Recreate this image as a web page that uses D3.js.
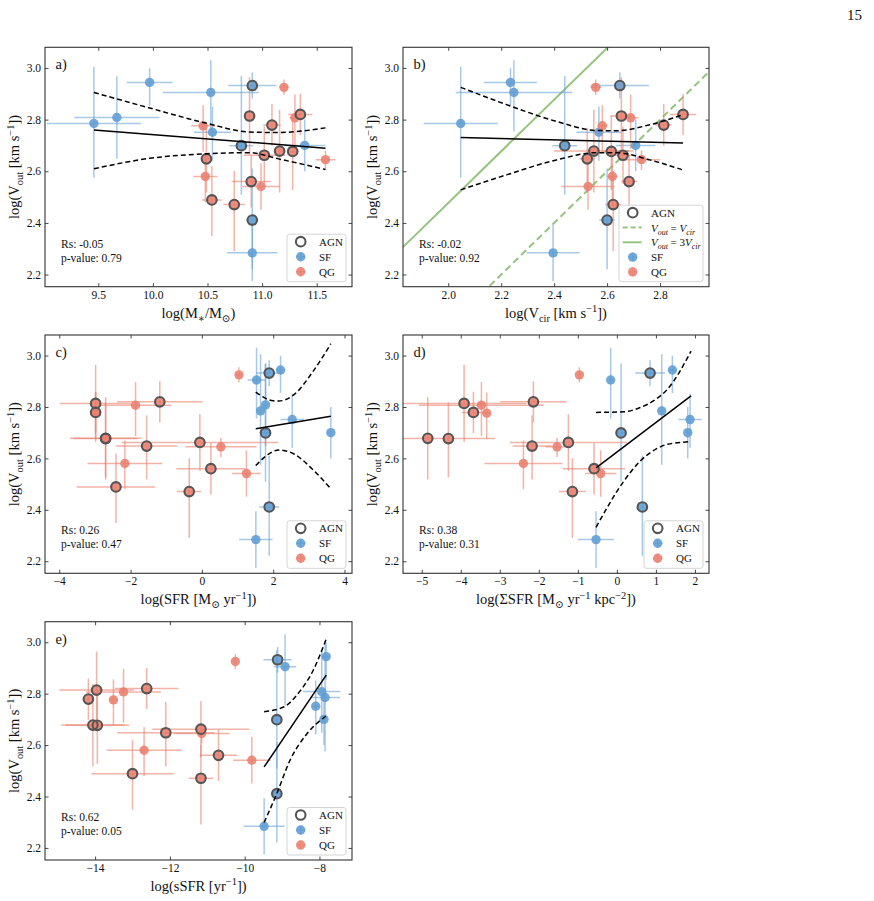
<!DOCTYPE html>
<html><head><meta charset="utf-8">
<script src="https://cdn.jsdelivr.net/npm/d3@7"></script>
<style>
body{margin:0;background:#fff}
svg{display:block}
text{font-family:"Liberation Serif","DejaVu Serif",serif;fill:#111}
</style>
</head><body>
<svg id="chart" width="874" height="901"></svg>
<script>
// ---------------- DATA ----------------
const ids = ["S1","S2","S3","S4","S5","S6","S7","S8","S9","S10",
  "Q11","Q12","Q13","Q14","Q15","Q16","Q17","Q18","Q19","Q20","Q21","Q22","Q23","Q24","Q25","Q26"];
const galType = ["SF","SF","SF","SF","SF","SF","SF","SF","SF","SF",
  "QG","QG","QG","QG","QG","QG","QG","QG","QG","QG","QG","QG","QG","QG","QG","QG"];
const isAGN = [false,false,false,false,false,true,true,true,false,false,
  false,true,false,true,true,true,true,false,true,true,true,false,true,false,true,false];
const logVout = [2.785,2.808,2.944,2.905,2.751,2.699,2.932,2.411,2.284,2.700,
  2.776,2.648,2.580,2.489,2.471,2.814,2.560,2.541,2.662,2.779,2.678,2.925,2.677,2.807,2.820,2.645];
const voutErrUp = [0.22,0.16,0.055,0.125,0.10,0.27,0.05,0.20,0.11,0.10,
  0.08,0.12,0.09,0.13,0.13,0.15,0.10,0.09,0.11,0.08,0.16,0.03,0.14,0.09,0.08,0.035];
const voutErrDn = [0.21,0.16,0.09,0.15,0.11,0.19,0.05,0.19,0.11,0.10,
  0.10,0.13,0.10,0.14,0.18,0.15,0.10,0.09,0.11,0.08,0.16,0.03,0.15,0.12,0.08,0.04];

const logMstar = [9.46,9.67,9.97,10.53,10.545,10.81,10.91,10.91,10.91,11.39,
  10.46,10.49,10.48,10.54,10.745,10.885,10.90,10.99,11.02,11.09,11.16,11.20,11.28,11.30,11.35,11.58];
const logMstarErr = [0.43,0.39,0.21,0.44,0.17,0.11,0.22,0.05,0.23,0.19,
  0.11,0.05,0.11,0.09,0.10,0.05,0.18,0.17,0.19,0.08,0.05,0.04,0.05,0.05,0.11,0.09];

const logVcir = [2.047,null,2.235,2.248,2.569,2.44,2.648,2.60,2.396,2.708,
  2.582,2.525,2.62,null,2.623,2.654,2.683,2.528,2.66,2.814,2.55,2.557,2.616,2.689,2.887,2.73];
const logVcirErr = [0.14,null,0.10,0.22,0.085,0.047,0.11,0.03,0.10,0.075,
  0.02,0.03,0.02,null,0.03,0.04,0.03,0.10,0.03,0.03,0.15,0.02,0.03,0.03,0.05,0.07];

const logSFR = [1.645,1.785,2.206,1.533,2.533,1.785,1.888,1.888,1.514,3.617,
  -2.98,-1.55,-2.16,-2.41,-0.355,-2.98,0.252,1.25,-0.056,-2.98,-2.70,1.04,-2.70,-1.86,-1.18,0.533];
const logSFRErr = [0.10,0.10,0.12,0.25,0.33,0.10,0.37,0.28,0.47,0.05,
  0.10,0.86,1.05,1.10,0.34,1.00,0.97,0.40,2.20,0.10,1.00,0.10,0.90,1.00,1.20,1.00];

const logSigmaSFR = [1.149,null,1.422,-0.158,1.875,0.107,0.85,0.653,-0.534,1.815,
  -3.335,-2.173,-2.395,null,-1.14,-3.915,-0.585,-0.414,-1.243,-3.676,-4.846,-0.961,-4.317,-3.471,-2.139,-1.533];
const logSigmaSFRErr = [0.05,null,0.10,0.05,0.30,0.10,0.38,0.05,0.46,0.05,
  0.05,0.50,1.00,null,0.35,1.60,0.80,0.40,1.50,0.30,0.15,0.05,1.20,1.60,0.85,0.30];

const logsSFR = [-7.85,-7.94,-7.82,-8.92,-8.10,-9.14,-9.12,-9.14,-9.48,-7.88,
  -13.51,-12.11,-12.69,-13.0,-11.17,-13.96,-10.70,-9.81,-11.17,-14.18,-14.06,-10.25,-13.94,-13.24,-12.62,-11.15];
const logsSFRErr = [0.40,0.50,0.10,0.30,0.10,0.05,0.38,0.10,0.55,0.05,
  0.10,1.30,1.00,1.10,0.33,1.00,0.50,0.50,1.30,0.10,0.85,0.05,0.85,1.00,0.85,0.75];

// fits (solid) and confidence bands (dashed)
const fitA_x = [9.46, 11.58], fitA_y = [2.760, 2.689];
const bandA_x = [9.46, 9.97, 10.5, 10.88, 11.15, 11.58];
const bandA_up = [2.905, 2.845, 2.785, 2.752, 2.750, 2.768];
const bandA_lo = [2.610, 2.650, 2.668, 2.672, 2.648, 2.607];

const fitB_x = [2.047, 2.887], fitB_y = [2.731, 2.709];
const bandB_x = [2.047, 2.22, 2.409, 2.56, 2.635, 2.761, 2.887];
const bandB_up = [2.925, 2.858, 2.793, 2.758, 2.757, 2.780, 2.819];
const bandB_lo = [2.528, 2.586, 2.644, 2.672, 2.672, 2.644, 2.605];

const fitC_x = [1.51, 3.617], fitC_y = [2.715, 2.764];
const bandC_x = [1.51, 2.0, 2.15, 2.6, 3.1, 3.617];
const bandC_up = [2.858, 2.824, 2.823, 2.850, 2.935, 3.046];
const bandC_lo = [2.572, 2.627, 2.633, 2.616, 2.558, 2.482];

const fitD_x = [-0.534, 1.90], fitD_y = [2.563, 2.843];
const bandD_x = [-0.534, 0.167, 0.6, 1.0, 1.3, 1.9];
const bandD_up = [2.779, 2.781, 2.798, 2.830, 2.870, 3.017];
const bandD_lo = [2.332, 2.509, 2.590, 2.636, 2.655, 2.665];

const fitE_x = [-9.48, -7.82], fitE_y = [2.515, 2.872];
const bandE_upx = [-9.48, -8.96, -8.52, -8.16, -7.82];
const bandE_up = [2.730, 2.748, 2.810, 2.893, 3.013];
const bandE_lox = [-9.48, -9.14, -8.79, -8.34, -7.82];
const bandE_lo = [2.299, 2.412, 2.540, 2.643, 2.714];

const xTicksA = [9.5, 10.0, 10.5, 11.0, 11.5];
const xTicksB = [2.0, 2.2, 2.4, 2.6, 2.8];
const xTicksC = [-4, -2, 0, 2, 4];
const xTicksD = [-5, -4, -3, -2, -1, 0, 1, 2];
const xTicksE = [-14, -12, -10, -8];
const yTicks = [2.2, 2.4, 2.6, 2.8, 3.0];
const panelLetters = ["a)", "b)", "c)", "d)", "e)"];
const rsValues = ["-0.05", "-0.02", "0.26", "0.38", "0.62"];
const pValues = ["0.79", "0.92", "0.47", "0.31", "0.05"];
const yDomain = [2.153, 3.08];

// ---------------- STYLE ----------------
const COL = {SF: "#5e9cd3", QG: "#e9806e"};
const GREEN = "#95c47f";
const svg = d3.select("#chart");
const minus = s => s.replace(/-/g, "\u2212");

function rich(sel, parts, fs) {
  let shift = 0;
  parts.forEach(([t, m]) => {
    let target = 0, size = fs;
    if (m.includes("sub")) { target = fs * 0.28; size = fs * 0.72; }
    if (m.includes("sup")) { target = -fs * 0.38; size = fs * 0.72; }
    const ts = sel.append("tspan").text(t).attr("font-size", size).attr("dy", target - shift);
    if (m.includes("i")) ts.attr("font-style", "italic");
    shift = target;
  });
}

const labelVout = [["log(V",""],["out","sub"],[" [km s",""],["\u22121","sup"],["])",""]];
const xLabels = [
  [["log(M",""],["\u2217","sub"],["/M",""],["\u2299","sub"],[")",""]],
  [["log(V",""],["cir","sub"],[" [km s",""],["\u22121","sup"],["])",""]],
  [["log(SFR [M",""],["\u2299","sub"],[" yr",""],["\u22121","sup"],["])",""]],
  [["log(\u03A3SFR [M",""],["\u2299","sub"],[" yr",""],["\u22121","sup"],[" kpc",""],["\u22122","sup"],["])",""]],
  [["log(sSFR [yr",""],["\u22121","sup"],["])",""]]
];

const panels = [
  {x:45, y:47.3, w:307, h:239.4, xdom:[9.012, 11.823], xticks:xTicksA, fmt:d3.format(".1f"),
   xv:logMstar, xe:logMstarErr, fx:fitA_x, fy:fitA_y, bux:bandA_x, bu:bandA_up, blx:bandA_x, bl:bandA_lo, legend:"basic"},
  {x:403, y:47.3, w:306, h:239.4, xdom:[1.829, 2.985], xticks:xTicksB, fmt:d3.format(".1f"),
   xv:logVcir, xe:logVcirErr, fx:fitB_x, fy:fitB_y, bux:bandB_x, bu:bandB_up, blx:bandB_x, bl:bandB_lo, legend:"vcir"},
  {x:45, y:335, w:307, h:238.3, xdom:[-4.40, 4.21], xticks:xTicksC, fmt:d3.format("d"),
   xv:logSFR, xe:logSFRErr, fx:fitC_x, fy:fitC_y, bux:bandC_x, bu:bandC_up, blx:bandC_x, bl:bandC_lo, legend:"basic"},
  {x:403, y:335, w:306, h:238.3, xdom:[-5.48, 2.36], xticks:xTicksD, fmt:d3.format("d"),
   xv:logSigmaSFR, xe:logSigmaSFRErr, fx:fitD_x, fy:fitD_y, bux:bandD_x, bu:bandD_up, blx:bandD_x, bl:bandD_lo, legend:"basic"},
  {x:45, y:621.7, w:307, h:238.3, xdom:[-15.34, -7.13], xticks:xTicksE, fmt:d3.format("d"),
   xv:logsSFR, xe:logsSFRErr, fx:fitE_x, fy:fitE_y, bux:bandE_upx, bu:bandE_up, blx:bandE_lox, bl:bandE_lo, legend:"basic"}
];

// page number
svg.append("text").attr("x", 862).attr("y", 20).attr("text-anchor", "end")
  .attr("font-size", 15).text("15");

panels.forEach((p, pi) => {
  const xs = d3.scaleLinear().domain(p.xdom).range([p.x, p.x + p.w]);
  const ys = d3.scaleLinear().domain(yDomain).range([p.y + p.h, p.y]);
  const clipId = "clip" + pi;
  svg.append("clipPath").attr("id", clipId).append("rect")
    .attr("x", p.x).attr("y", p.y).attr("width", p.w).attr("height", p.h);
  const g = svg.append("g");
  const plot = g.append("g").attr("clip-path", `url(#${clipId})`);

  // reference lines for panel b
  if (p.legend === "vcir") {
    const d0 = p.xdom;
    plot.append("line").attr("x1", xs(d0[0])).attr("y1", ys(d0[0])).attr("x2", xs(d0[1])).attr("y2", ys(d0[1]))
      .attr("stroke", GREEN).attr("stroke-width", 2).attr("stroke-dasharray", "7,4");
    const off = Math.log10(3);
    plot.append("line").attr("x1", xs(d0[0])).attr("y1", ys(d0[0] + off)).attr("x2", xs(d0[1])).attr("y2", ys(d0[1] + off))
      .attr("stroke", GREEN).attr("stroke-width", 2);
  }

  // points: SF first then QG
  const idx = d3.range(ids.length).filter(k => p.xv[k] != null);
  const order = idx.filter(k => galType[k] === "SF").concat(idx.filter(k => galType[k] === "QG"));
  order.forEach(k => {
    const c = COL[galType[k]];
    const cx = xs(p.xv[k]), cy = ys(logVout[k]);
    const op = galType[k] === "SF" ? 0.55 : 0.6;
    plot.append("line").attr("x1", xs(p.xv[k] - p.xe[k])).attr("x2", xs(p.xv[k] + p.xe[k]))
      .attr("y1", cy).attr("y2", cy).attr("stroke", c).attr("stroke-width", 1.5).attr("stroke-opacity", op);
    plot.append("line").attr("x1", cx).attr("x2", cx)
      .attr("y1", ys(logVout[k] - voutErrDn[k])).attr("y2", ys(logVout[k] + voutErrUp[k]))
      .attr("stroke", c).attr("stroke-width", 1.5).attr("stroke-opacity", op);
    plot.append("circle").attr("cx", cx).attr("cy", cy).attr("r", 4.7)
      .attr("fill", c).attr("fill-opacity", 0.88);
  });
  order.filter(k => isAGN[k]).forEach(k => {
    plot.append("circle").attr("cx", xs(p.xv[k])).attr("cy", ys(logVout[k])).attr("r", 4.8)
      .attr("fill", "none").attr("stroke", "#555").attr("stroke-width", 2.1);
  });

  // fit line and confidence band
  plot.append("line").attr("x1", xs(p.fx[0])).attr("y1", ys(p.fy[0]))
    .attr("x2", xs(p.fx[1])).attr("y2", ys(p.fy[1]))
    .attr("stroke", "#000").attr("stroke-width", 1.5);
  const lineGen = d3.line().x(d => xs(d[0])).y(d => ys(d[1])).curve(d3.curveMonotoneX);
  plot.append("path").attr("d", lineGen(p.bux.map((v, i) => [v, p.bu[i]])))
    .attr("fill", "none").attr("stroke", "#000").attr("stroke-width", 1.5).attr("stroke-dasharray", "5,3");
  plot.append("path").attr("d", lineGen(p.blx.map((v, i) => [v, p.bl[i]])))
    .attr("fill", "none").attr("stroke", "#000").attr("stroke-width", 1.5).attr("stroke-dasharray", "5,3");

  // axes (ticks inward on all sides)
  const tk = 3.5;
  const ax = g.append("g").attr("transform", `translate(0,${p.y + p.h})`)
    .call(d3.axisBottom(xs).tickValues(p.xticks).tickSizeInner(-tk).tickSizeOuter(0).tickPadding(4)
      .tickFormat(d => minus(p.fmt(d))));
  const axT = g.append("g").attr("transform", `translate(0,${p.y})`)
    .call(d3.axisTop(xs).tickValues(p.xticks).tickSizeInner(-tk).tickSizeOuter(0).tickFormat(""));
  const ayL = g.append("g").attr("transform", `translate(${p.x},0)`)
    .call(d3.axisLeft(ys).tickValues(yTicks).tickSizeInner(-tk).tickSizeOuter(0).tickPadding(4)
      .tickFormat(d3.format(".1f")));
  const ayR = g.append("g").attr("transform", `translate(${p.x + p.w},0)`)
    .call(d3.axisRight(ys).tickValues(yTicks).tickSizeInner(-tk).tickSizeOuter(0).tickFormat(""));
  [ax, axT, ayL, ayR].forEach(a => {
    a.select(".domain").remove();
    a.selectAll(".tick line").attr("stroke", "#333").attr("stroke-width", 0.9);
    a.selectAll(".tick text").attr("font-family", "Liberation Serif, DejaVu Serif, serif")
      .attr("font-size", 11.5).attr("fill", "#111");
  });
  g.append("rect").attr("x", p.x).attr("y", p.y).attr("width", p.w).attr("height", p.h)
    .attr("fill", "none").attr("stroke", "#333").attr("stroke-width", 1.1);

  // labels
  const xl = g.append("text").attr("x", p.x + p.w / 2).attr("y", p.y + p.h + 31)
    .attr("text-anchor", "middle").attr("font-size", 14.5);
  rich(xl, xLabels[pi], 14.5);
  const yl = g.append("text").attr("transform", `translate(${p.x - 26},${p.y + p.h / 2}) rotate(-90)`)
    .attr("text-anchor", "middle").attr("font-size", 14.5);
  rich(yl, labelVout, 14.5);

  g.append("text").attr("x", p.x + 10.5).attr("y", p.y + 22).attr("font-size", 14.5).text(panelLetters[pi]);
  g.append("text").attr("x", p.x + 16).attr("y", p.y + p.h - 39).attr("font-size", 11.5).text("Rs: " + rsValues[pi]);
  g.append("text").attr("x", p.x + 16).attr("y", p.y + p.h - 25).attr("font-size", 11.5).text("p-value: " + pValues[pi]);

  // legend
  const items = p.legend === "vcir"
    ? [["agn", [["AGN",""]]], ["dash", [["V","i"],["out","isub"],[" = ",""],["V","i"],["cir","isub"]]],
       ["solid", [["V","i"],["out","isub"],[" = 3",""],["V","i"],["cir","isub"]]],
       ["SF", [["SF",""]]], ["QG", [["QG",""]]]]
    : [["agn", [["AGN",""]]], ["SF", [["SF",""]]], ["QG", [["QG",""]]]];
  const lw = p.legend === "vcir" ? 84 : 59;
  const rowH = p.legend === "vcir" ? 14.8 : 15;
  const lh = items.length * rowH + 2.5;
  const lx = p.x + p.w - 6 - lw, ly = p.y + p.h - 5 - lh;
  const lg = g.append("g");
  lg.append("rect").attr("x", lx).attr("y", ly).attr("width", lw).attr("height", lh).attr("rx", 2.5)
    .attr("fill", "#fff").attr("fill-opacity", 0.85).attr("stroke", "#d4d4d4").attr("stroke-width", 1);
  items.forEach(([kind, parts], i) => {
    const cy = ly + 7.5 + i * rowH;
    const mx = lx + 13.7;
    if (kind === "agn") {
      lg.append("circle").attr("cx", mx).attr("cy", cy).attr("r", 4.8).attr("fill", "none")
        .attr("stroke", "#555").attr("stroke-width", 2.1);
    } else if (kind === "dash" || kind === "solid") {
      lg.append("line").attr("x1", lx + 3.7).attr("x2", lx + 22.7).attr("y1", cy).attr("y2", cy)
        .attr("stroke", GREEN).attr("stroke-width", 2).attr("stroke-dasharray", kind === "dash" ? "5,3" : null);
    } else {
      const c = COL[kind];
      lg.append("line").attr("x1", mx - 4.5).attr("x2", mx + 4.5).attr("y1", cy).attr("y2", cy)
        .attr("stroke", c).attr("stroke-width", 1.5).attr("stroke-opacity", 0.6);
      lg.append("line").attr("x1", mx).attr("x2", mx).attr("y1", cy - 4.5).attr("y2", cy + 4.5)
        .attr("stroke", c).attr("stroke-width", 1.5).attr("stroke-opacity", 0.6);
      lg.append("circle").attr("cx", mx).attr("cy", cy).attr("r", 4.7).attr("fill", c).attr("fill-opacity", 0.88);
    }
    const t = lg.append("text").attr("x", lx + 32).attr("y", cy + 4).attr("font-size", 11);
    rich(t, parts, 11);
  });
});
</script>
</body></html>
